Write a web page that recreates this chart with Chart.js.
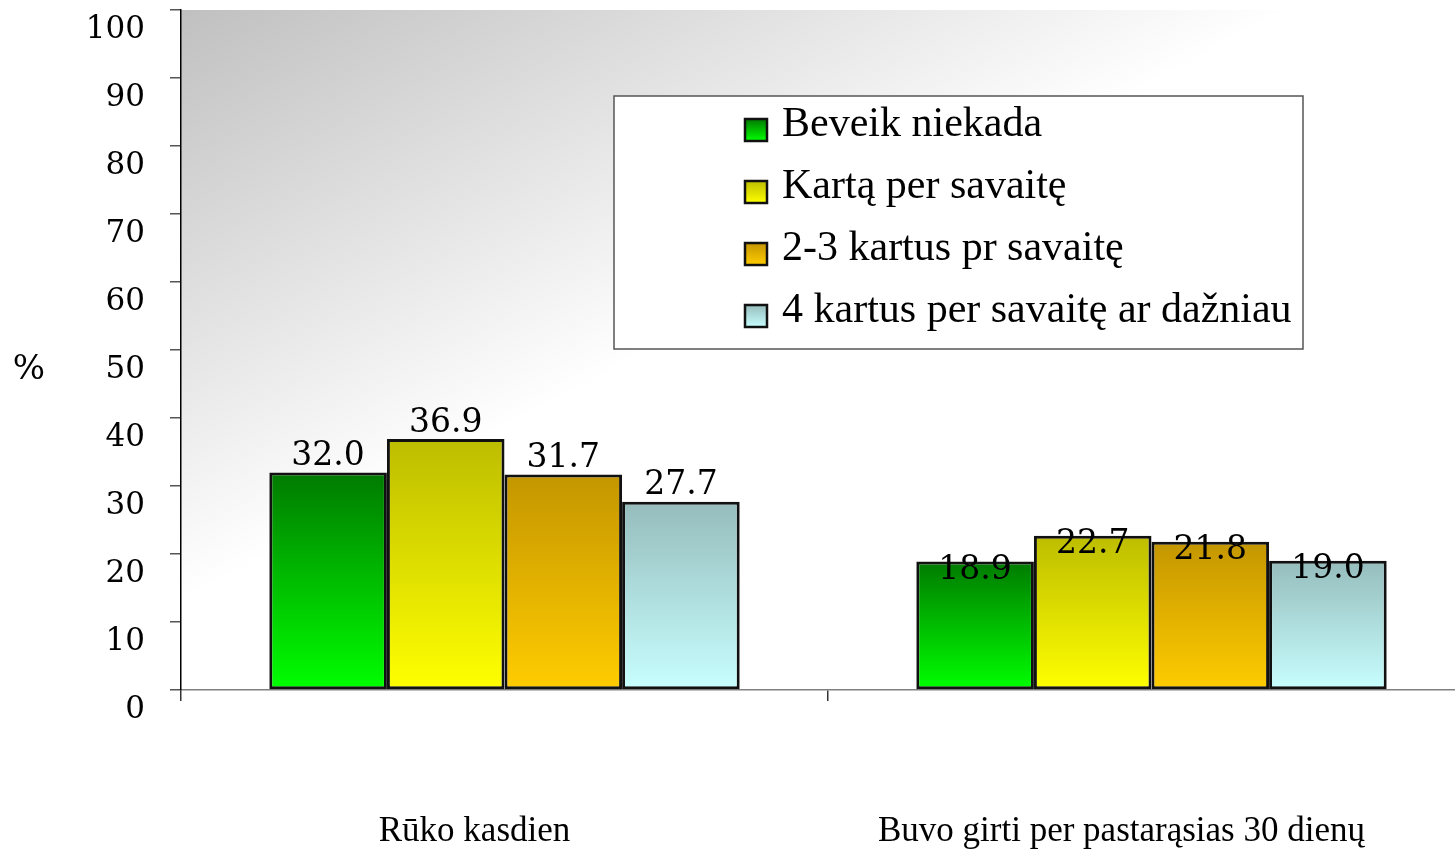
<!DOCTYPE html>
<html lang="lt">
<head>
<meta charset="utf-8">
<title>Rūkymas ir girtavimas</title>
<script src="https://cdn.jsdelivr.net/npm/chart.js@4.4.1/dist/chart.umd.min.js"></script>
<style>
    html, body { margin: 0; padding: 0; background: #fff; overflow: hidden; }
    #chartWrap { width: 1475px; height: 853px; }
</style>
</head>
<body>
<div id="chartWrap">
    <canvas id="habitsChart" width="1475" height="853"></canvas>
</div>
<script>
// Duomenys
const categories = ['Rūko kasdien', 'Buvo girti per pastarąsias 30 dienų'];
const seriesNames = ['Beveik niekada', 'Kartą per savaitę', '2-3 kartus pr savaitę', '4 kartus per savaitę ar dažniau'];
const beveikNiekada = [32.0, 18.9];
const kartaPerSavaite = [36.9, 22.7];
const duTrysKartus = [31.7, 21.8];
const keturiKartai = [27.7, 19.0];
const yTickValues = [0, 10, 20, 30, 40, 50, 60, 70, 80, 90, 100];

// Spalvos: viršus -> apačia
const palette = [
    ['#007a00', '#00ff00'],
    ['#bdbd00', '#ffff00'],
    ['#c49600', '#ffcc00'],
    ['#96bcbc', '#c8ffff']
];

document.addEventListener('DOMContentLoaded', () => {
    const SERIF = '"Liberation Serif", "Times New Roman", serif';
    const NUM_FONT = '"DejaVu Serif", Georgia, serif';

    // Gradientas kiekvienam stulpeliui atskirai
    const barGradient = (top, bottom) => (ctx) => {
        const chart = ctx.chart;
        const yScale = chart.scales.y;
        if (!chart.chartArea || !yScale || ctx.type !== 'data') return bottom;
        const yTop = yScale.getPixelForValue(ctx.raw);
        const yBase = yScale.getPixelForValue(0);
        const g = chart.ctx.createLinearGradient(0, yTop, 0, yBase);
        g.addColorStop(0, top);
        g.addColorStop(1, bottom);
        return g;
    };

    // Pilkas fonas su įstrižu gradientu
    const plotBackground = {
        id: 'plotBackground',
        beforeDraw(chart) {
            const { ctx, chartArea: a } = chart;
            const g = ctx.createLinearGradient(a.left, a.top, a.left + 246, a.top + 461);
            g.addColorStop(0, '#c0c0c0');
            g.addColorStop(1, '#ffffff');
            ctx.save();
            ctx.fillStyle = g;
            ctx.fillRect(a.left, a.top, a.right - a.left, a.bottom - a.top);
            ctx.restore();
        }
    };

    // Reikšmės virš stulpelių ir "%" ženklas
    const valueLabels = {
        id: 'valueLabels',
        afterDatasetsDraw(chart) {
            const ctx = chart.ctx;
            ctx.save();
            ctx.fillStyle = '#000';
            ctx.font = `33px ${NUM_FONT}`;
            ctx.textAlign = 'center';
            ctx.textBaseline = 'middle';
            chart.data.datasets.forEach((ds, i) => {
                chart.getDatasetMeta(i).data.forEach((bar, j) => {
                    const lift = j === 0 ? -16 : 9;
                    ctx.fillText(ds.data[j].toFixed(1), bar.x, bar.y + lift);
                });
            });
            ctx.font = `34px ${NUM_FONT}`;
            ctx.fillText('%', 29, 370);
            ctx.restore();
        }
    };

    // Legenda diagramos viduje
    const boxLegend = {
        id: 'boxLegend',
        afterDraw(chart) {
            const ctx = chart.ctx;
            const box = { x: 614, y: 96, w: 689, h: 253 };
            ctx.save();
            ctx.fillStyle = '#fff';
            ctx.fillRect(box.x, box.y, box.w, box.h);
            ctx.strokeStyle = '#555';
            ctx.lineWidth = 1.5;
            ctx.strokeRect(box.x, box.y, box.w, box.h);

            ctx.font = `42px ${SERIF}`;
            ctx.textAlign = 'left';
            ctx.textBaseline = 'alphabetic';
            seriesNames.forEach((name, i) => {
                const cy = 130 + i * 62;
                const mx = 745, size = 22;
                const g = ctx.createLinearGradient(0, cy - size / 2, 0, cy + size / 2);
                g.addColorStop(0, palette[i][0]);
                g.addColorStop(1, palette[i][1]);
                ctx.fillStyle = g;
                ctx.fillRect(mx, cy - size / 2, size, size);
                ctx.strokeStyle = '#111';
                ctx.lineWidth = 2.5;
                ctx.strokeRect(mx, cy - size / 2, size, size);
                ctx.fillStyle = '#000';
                ctx.fillText(name, 782, cy + 6);
            });
            ctx.restore();
        }
    };

    const seriesValues = [beveikNiekada, kartaPerSavaite, duTrysKartus, keturiKartai];

    const ctx = document.getElementById('habitsChart').getContext('2d');
    new Chart(ctx, {
        type: 'bar',
        data: {
            labels: categories,
            datasets: seriesValues.map((values, i) => ({
                label: seriesNames[i],
                data: values,
                backgroundColor: barGradient(palette[i][0], palette[i][1]),
                borderColor: '#111',
                borderWidth: 3,
                borderSkipped: false,
                categoryPercentage: 0.727,
                barPercentage: 1.0
            }))
        },
        options: {
            responsive: false,
            animation: false,
            layout: { padding: { top: 10, right: 0, left: 0, bottom: 0 } },
            plugins: {
                legend: { display: false },
                tooltip: { enabled: false }
            },
            scales: {
                x: {
                    afterFit: (scale) => {
                        scale.height = 163;
                        scale.paddingLeft = 0;
                        scale.paddingRight = 0;
                    },
                    grid: {
                        drawOnChartArea: false,
                        offset: true,
                        tickLength: 11,
                        color: '#333',
                        lineWidth: 1.5
                    },
                    border: { color: '#808080', width: 1.5 },
                    ticks: {
                        color: '#000',
                        font: { family: SERIF, size: 35 },
                        padding: 110,
                        labelOffset: -30
                    }
                },
                y: {
                    min: 0,
                    max: 100,
                    afterBuildTicks: (scale) => { scale.ticks = yTickValues.map(v => ({ value: v })); },
                    afterFit: (scale) => {
                        scale.width = 181;
                        scale.paddingTop = 0;
                        scale.paddingBottom = 0;
                    },
                    grid: {
                        drawOnChartArea: false,
                        tickLength: 11,
                        color: '#555',
                        lineWidth: 1.5
                    },
                    border: { color: '#000', width: 1.5 },
                    ticks: {
                        color: '#000',
                        font: { family: NUM_FONT, size: 31 },
                        padding: 25,
                        labelOffset: 20
                    }
                }
            }
        },
        plugins: [plotBackground, valueLabels, boxLegend]
    });
});
</script>
</body>
</html>
